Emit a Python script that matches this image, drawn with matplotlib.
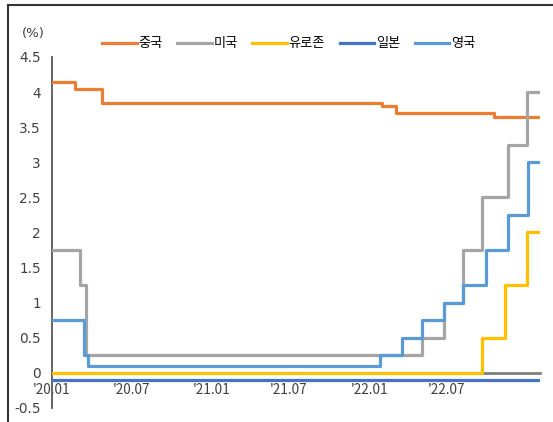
import matplotlib
matplotlib.use("Agg")
import matplotlib.pyplot as plt
from matplotlib.lines import Line2D
import pandas as pd

plt.rcParams['font.family'] = ['Noto Sans CJK KR', 'DejaVu Sans']

# 기준금리 변경일과 금리(%)
start = pd.Timestamp('2020-01-01')
end = pd.Timestamp('2022-11-30')

china_dates = ['2020-01-01', '2020-02-20', '2020-04-20', '2021-12-20', '2022-01-20', '2022-08-22']
china_rates = [4.15, 4.05, 3.85, 3.80, 3.70, 3.65]

us_dates = ['2020-01-01', '2020-03-03', '2020-03-15', '2022-03-17', '2022-05-04',
            '2022-06-15', '2022-07-27', '2022-09-21', '2022-11-02']
us_rates = [1.75, 1.25, 0.25, 0.50, 1.00, 1.75, 2.50, 3.25, 4.00]

euro_dates = ['2020-01-01', '2022-07-27', '2022-09-14', '2022-11-02']
euro_rates = [0.00, 0.50, 1.25, 2.00]

japan_dates = ['2020-01-01']
japan_rates = [-0.10]

uk_dates = ['2020-01-01', '2020-03-11', '2020-03-19', '2021-12-16', '2022-02-03',
            '2022-03-17', '2022-05-05', '2022-06-16', '2022-08-04', '2022-09-22', '2022-11-03']
uk_rates = [0.75, 0.25, 0.10, 0.25, 0.50, 0.75, 1.00, 1.25, 1.75, 2.25, 3.00]

names = ['중국', '미국', '유로존', '일본', '영국']
colors = ['#ED7D31', '#A5A5A5', '#FFC000', '#4472C4', '#5B9BD5']

tick_labels = ["'20.01", "'20.07", "'21.01", "'21.07", "'22.01", "'22.07"]
tick_days = [0, 174, 348, 516, 693, 861]


def to_steps(dates, rates):
    x = [(pd.Timestamp(d) - start).days for d in dates] + [(end - start).days]
    y = list(rates) + [rates[-1]]
    return x, y


fig = plt.figure(figsize=(5.53, 4.22), dpi=100)
ax = fig.add_axes([0.094, 0.0332, 0.8832, 0.8318])

series = [(china_dates, china_rates), (us_dates, us_rates), (euro_dates, euro_rates),
          (japan_dates, japan_rates), (uk_dates, uk_rates)]
for (d, r), name, c in zip(series, names, colors):
    x, y = to_steps(d, r)
    ax.step(x, y, where='post', color=c, lw=2.3, label=name, zorder=3)

ax.set_xlim(0, (end - start).days + 1)
ax.set_ylim(-0.5, 4.5)
ax.set_yticks([-0.5, 0, 0.5, 1, 1.5, 2, 2.5, 3, 3.5, 4, 4.5])
ax.set_yticklabels(['-0.5', '0', '0.5', '1', '1.5', '2', '2.5', '3', '3.5', '4', '4.5'])
ax.set_xticks(tick_days)
ax.set_xticklabels(tick_labels)
for lab in ax.get_xticklabels() + ax.get_yticklabels():
    lab.set_family('DejaVu Sans')

ax.spines['top'].set_visible(False)
ax.spines['right'].set_visible(False)
ax.spines['left'].set_color('#595959')
ax.spines['left'].set_linewidth(1.3)
ax.spines['bottom'].set_position(('data', 0))
ax.spines['bottom'].set_color('#7F7F7F')
ax.spines['bottom'].set_linewidth(2)
ax.spines['bottom'].set_zorder(2)
ax.tick_params(axis='both', length=0, labelsize=9.8, colors='#404040')
ax.tick_params(axis='y', pad=8)
ax.tick_params(axis='x', pad=7.5)

fig.legend(loc='center', bbox_to_anchor=(0.522, 0.896), ncol=5, frameon=False,
           fontsize=9.5, handlelength=2.6, handletextpad=0.15, columnspacing=1.1)
fig.text(0.06, 0.92, '(%)', fontsize=9.5, color='#404040', ha='center', va='center',
         family='DejaVu Sans')

# 바깥 테두리
fig.add_artist(Line2D([0.015, 0.015], [0, 0.988], transform=fig.transFigure, color='#333333', lw=1.5))
fig.add_artist(Line2D([0.015, 1], [0.988, 0.988], transform=fig.transFigure, color='#333333', lw=1.5))

fig.savefig('out.png', dpi=100)
